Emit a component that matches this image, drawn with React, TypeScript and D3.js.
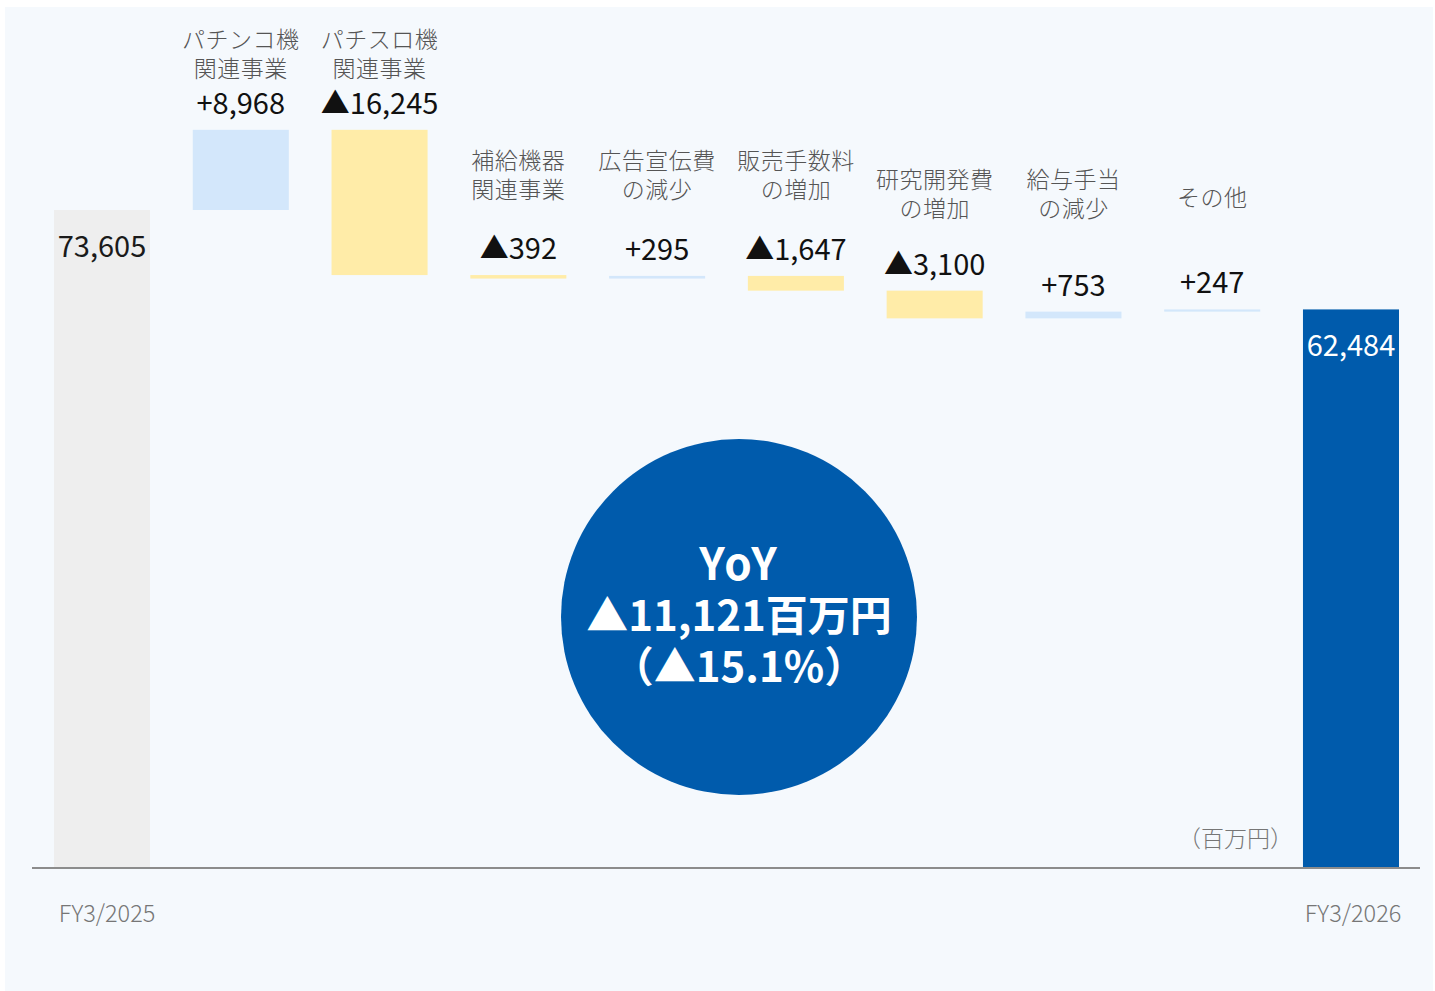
import * as d3 from "d3";

// waterfall of operating expense changes, FY3/2025 -> FY3/2026 (百万円)
const categories = [
  "FY3/2025",
  "パチンコ機\n関連事業",
  "パチスロ機\n関連事業",
  "補給機器\n関連事業",
  "広告宣伝費\nの減少",
  "販売手数料\nの増加",
  "研究開発費\nの増加",
  "給与手当\nの減少",
  "その他",
  "FY3/2026",
];
const deltas = [73605, 8968, -16245, -392, 295, -1647, -3100, 753, 247, 62484];
const kinds = ["total", "up", "down", "down", "up", "down", "down", "up", "up", "total"];
const valueLabels = ["73,605", "+8,968", "▲16,245", "▲392", "+295", "▲1,647", "▲3,100", "+753", "+247", "62,484"];
const yoyLines = ["YoY", "▲11,121百万円", "（▲15.1%）"];
const unitLabel = "（百万円）";

// layout: y of the first line of each category caption (totals are labelled at the bottom)
const captionTop = [0, 40, 40, 161, 161, 161, 180, 180, 198, 0];

const W = 1435;
const H = 991;
const baseY = 868;
const FONT = "'Noto Sans CJK JP', 'Noto Sans', sans-serif";

const colors: Record<string, string> = {
  up: "#d3e7fb",
  down: "#ffeca8",
};

type Step = { name: string; kind: string; label: string; lo: number; hi: number; first: boolean };

function buildSteps(): Step[] {
  let run = 0;
  return categories.map((name, i) => {
    const kind = kinds[i];
    let lo = 0;
    let hi = 0;
    if (kind === "total") {
      lo = 0;
      hi = deltas[i];
      run = deltas[i];
    } else {
      const next = run + deltas[i];
      lo = Math.min(run, next);
      hi = Math.max(run, next);
      run = next;
    }
    return { name, kind, label: valueLabels[i], lo, hi, first: i === 0 };
  });
}

export default function App() {
  const steps = buildSteps();

  const x = d3
    .scaleBand<string>()
    .domain(categories)
    .range([54, 1399])
    .paddingInner(0.308)
    .paddingOuter(0);

  // 73,605 -> y 210, zero at the baseline
  const y = d3
    .scaleLinear()
    .domain([0, 73605])
    .range([baseY, 210]);

  const bw = x.bandwidth();

  return (
    <div style={{ position: "absolute", left: 0, top: 0 }}>
      <svg width={W} height={H} style={{ display: "block", fontFamily: FONT }}>
        <rect x={0} y={0} width={W} height={H} fill="#ffffff" />
        <rect x={5} y={7} width={1428} height={H - 7} fill="#f5f9fd" />

        {steps.map((s, i) => {
          const x0 = x(s.name)!;
          const cx = x0 + bw / 2;
          const top = y(s.hi);
          const h = Math.max(y(s.lo) - y(s.hi), 1);
          let fill = colors[s.kind];
          if (s.kind === "total") fill = s.first ? "#eeeeee" : "#005bac";
          const lines = s.name.split("\n");
          return (
            <g key={s.name}>
              <rect x={x0} y={top} width={bw} height={h} fill={fill} />
              {s.kind === "total" ? (
                <>
                  <text
                    x={cx}
                    y={top + 47}
                    textAnchor="middle"
                    fontSize={29}
                    fill={s.first ? "#1a1a1a" : "#ffffff"}
                  >
                    {s.label}
                  </text>
                  <text
                    x={cx + (s.first ? 5 : 2)}
                    y={922}
                    textAnchor="middle"
                    fontSize={23.5}
                    fontWeight={300}
                    fill="#767676"
                  >
                    {s.name}
                  </text>
                </>
              ) : (
                <>
                  <text x={cx} y={top - 16} textAnchor="middle" fontSize={29} fill="#111111">
                    {s.label}
                  </text>
                  {lines.map((ln, k) => (
                    <text
                      key={k}
                      x={cx}
                      y={captionTop[i] + k * 29 + 8}
                      textAnchor="middle"
                      fontSize={23}
                      fontWeight={300}
                      letterSpacing={0.5}
                      fill="#555555"
                    >
                      {ln}
                    </text>
                  ))}
                </>
              )}
            </g>
          );
        })}

        <line x1={32} x2={1420} y1={baseY} y2={baseY} stroke="#8c8c8c" strokeWidth={2} />

        <text x={1293} y={847} textAnchor="end" fontSize={23} fontWeight={300} fill="#767676">
          {unitLabel}
        </text>

        <circle cx={739} cy={617} r={178} fill="#005bac" />
        {yoyLines.map((ln, k) => (
          <text
            key={k}
            x={739}
            y={580 + k * 51}
            textAnchor="middle"
            fontSize={k === 0 ? 44 : 42}
            fontWeight={700}
            letterSpacing={k === 0 ? 2 : 0}
            fill="#ffffff"
          >
            {ln}
          </text>
        ))}
      </svg>
    </div>
  );
}
